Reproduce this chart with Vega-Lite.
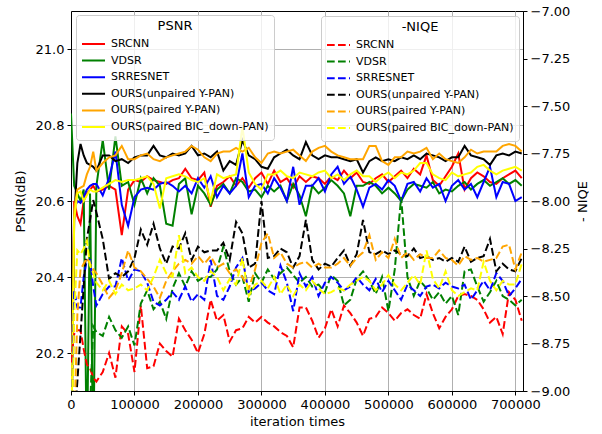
{
  "$schema": "https://vega.github.io/schema/vega-lite/v6.json",
  "width": 452,
  "height": 380,
  "autosize": {"type": "none"},
  "padding": {"left": 71, "top": 11, "right": 79, "bottom": 43},
  "background": "white",
  "config": {
    "font": "DejaVu Sans",
    "view": {"stroke": "black", "strokeWidth": 1},
    "axis": {
      "labelFont": "DejaVu Sans", "labelFontSize": 13, "labelColor": "black",
      "titleFont": "DejaVu Sans", "titleFontSize": 13, "titleFontWeight": "normal", "titleColor": "black",
      "domainColor": "black", "tickColor": "black", "tickSize": 4, "labelPadding": 3,
      "gridColor": "#b0b0b0", "gridWidth": 1, "labelFlush": false, "labelOverlap": false
    },
    "legend": {
      "labelFont": "DejaVu Sans", "labelFontSize": 11, "labelColor": "black", "labelLimit": 0,
      "titleFont": "DejaVu Sans", "titleFontSize": 13, "titleFontWeight": "normal", "titleColor": "black",
      "titleAnchor": "middle", "titlePadding": 3,
      "symbolType": "stroke", "symbolSize": 529, "symbolStrokeWidth": 2, "symbolOpacity": 1,
      "fillColor": "rgba(255,255,255,0.8)", "strokeColor": "#cccccc", "cornerRadius": 3,
      "padding": 5, "clipHeight": 16, "rowPadding": 0.6, "labelOffset": 5
    }
  },
  "datasets": {
    "psnr": [
      {"it": 0, "srcnn": 19.9, "vdsr": 20.83, "srresnet": 19.9, "unpaired": 19.9, "paired": 19.9, "bic": 19.9},
      {"it": 5000, "srcnn": 20.60, "vdsr": 20.64, "srresnet": 20.58, "unpaired": 20.55, "paired": 20.58, "bic": 20.55},
      {"it": 10000, "srcnn": 20.56, "vdsr": 20.62, "srresnet": 20.60, "unpaired": 20.70, "paired": 20.63, "bic": 20.62},
      {"it": 15000, "srcnn": 20.54, "vdsr": 20.60, "srresnet": 20.595, "unpaired": 20.75, "paired": 20.635, "bic": 20.625},
      {"it": 20000, "srcnn": 20.60, "vdsr": 20.63, "srresnet": 20.61, "unpaired": 20.72, "paired": 20.64, "bic": 20.60},
      {"it": 25000, "srcnn": 20.62, "vdsr": 19.9, "srresnet": 20.63, "unpaired": 20.70, "paired": 20.67, "bic": 20.615},
      {"it": 30000, "srcnn": 20.63, "vdsr": 20.62, "srresnet": 20.64, "unpaired": 20.695, "paired": 20.69, "bic": 20.63},
      {"it": 35000, "srcnn": 20.64, "vdsr": 19.9, "srresnet": 20.645, "unpaired": 20.69, "paired": 20.73, "bic": 20.625},
      {"it": 40000, "srcnn": 20.625, "vdsr": 20.64, "srresnet": 20.645, "unpaired": 20.68, "paired": 20.68, "bic": 20.625},
      {"it": 50000, "srcnn": 20.63, "vdsr": 20.76, "srresnet": 20.615, "unpaired": 20.72, "paired": 20.70, "bic": 20.635},
      {"it": 60000, "srcnn": 20.64, "vdsr": 20.63, "srresnet": 20.66, "unpaired": 20.72, "paired": 20.715, "bic": 20.645},
      {"it": 70000, "srcnn": 20.63, "vdsr": 20.77, "srresnet": 20.73, "unpaired": 20.705, "paired": 20.72, "bic": 20.655},
      {"it": 80000, "srcnn": 20.51, "vdsr": 20.64, "srresnet": 20.59, "unpaired": 20.71, "paired": 20.745, "bic": 20.65},
      {"it": 90000, "srcnn": 20.63, "vdsr": 20.65, "srresnet": 20.535, "unpaired": 20.70, "paired": 20.71, "bic": 20.655},
      {"it": 100000, "srcnn": 20.655, "vdsr": 20.59, "srresnet": 20.61, "unpaired": 20.715, "paired": 20.71, "bic": 20.655},
      {"it": 110000, "srcnn": 20.65, "vdsr": 20.66, "srresnet": 20.63, "unpaired": 20.72, "paired": 20.72, "bic": 20.66},
      {"it": 120000, "srcnn": 20.665, "vdsr": 20.62, "srresnet": 20.635, "unpaired": 20.72, "paired": 20.725, "bic": 20.665},
      {"it": 130000, "srcnn": 20.655, "vdsr": 20.66, "srresnet": 20.63, "unpaired": 20.745, "paired": 20.71, "bic": 20.645},
      {"it": 140000, "srcnn": 20.65, "vdsr": 20.64, "srresnet": 20.645, "unpaired": 20.72, "paired": 20.705, "bic": 20.58},
      {"it": 150000, "srcnn": 20.645, "vdsr": 20.54, "srresnet": 20.65, "unpaired": 20.715, "paired": 20.715, "bic": 20.66},
      {"it": 160000, "srcnn": 20.655, "vdsr": 20.535, "srresnet": 20.64, "unpaired": 20.725, "paired": 20.72, "bic": 20.665},
      {"it": 170000, "srcnn": 20.66, "vdsr": 20.645, "srresnet": 20.625, "unpaired": 20.72, "paired": 20.725, "bic": 20.67},
      {"it": 180000, "srcnn": 20.685, "vdsr": 20.66, "srresnet": 20.64, "unpaired": 20.725, "paired": 20.73, "bic": 20.665},
      {"it": 190000, "srcnn": 20.66, "vdsr": 20.565, "srresnet": 20.62, "unpaired": 20.745, "paired": 20.745, "bic": 20.655},
      {"it": 200000, "srcnn": 20.655, "vdsr": 20.64, "srresnet": 20.66, "unpaired": 20.72, "paired": 20.735, "bic": 20.65},
      {"it": 210000, "srcnn": 20.675, "vdsr": 20.62, "srresnet": 20.635, "unpaired": 20.725, "paired": 20.715, "bic": 20.66},
      {"it": 220000, "srcnn": 20.585, "vdsr": 20.59, "srresnet": 20.665, "unpaired": 20.715, "paired": 20.705, "bic": 20.60},
      {"it": 230000, "srcnn": 20.64, "vdsr": 20.63, "srresnet": 20.61, "unpaired": 20.73, "paired": 20.725, "bic": 20.67},
      {"it": 240000, "srcnn": 20.65, "vdsr": 20.645, "srresnet": 20.64, "unpaired": 20.68, "paired": 20.73, "bic": 20.66},
      {"it": 250000, "srcnn": 20.665, "vdsr": 20.62, "srresnet": 20.62, "unpaired": 20.705, "paired": 20.73, "bic": 20.665},
      {"it": 260000, "srcnn": 20.64, "vdsr": 20.66, "srresnet": 20.64, "unpaired": 20.695, "paired": 20.74, "bic": 20.67},
      {"it": 270000, "srcnn": 20.66, "vdsr": 20.65, "srresnet": 20.725, "unpaired": 20.76, "paired": 20.73, "bic": 20.795},
      {"it": 280000, "srcnn": 20.635, "vdsr": 20.625, "srresnet": 20.61, "unpaired": 20.72, "paired": 20.74, "bic": 20.675},
      {"it": 290000, "srcnn": 20.66, "vdsr": 20.63, "srresnet": 20.64, "unpaired": 20.71, "paired": 20.715, "bic": 20.645},
      {"it": 300000, "srcnn": 20.675, "vdsr": 20.61, "srresnet": 20.645, "unpaired": 20.69, "paired": 20.70, "bic": 20.63},
      {"it": 310000, "srcnn": 20.645, "vdsr": 20.64, "srresnet": 20.62, "unpaired": 20.685, "paired": 20.725, "bic": 20.67},
      {"it": 320000, "srcnn": 20.68, "vdsr": 20.625, "srresnet": 20.66, "unpaired": 20.715, "paired": 20.73, "bic": 20.67},
      {"it": 330000, "srcnn": 20.65, "vdsr": 20.64, "srresnet": 20.635, "unpaired": 20.725, "paired": 20.725, "bic": 20.68},
      {"it": 340000, "srcnn": 20.66, "vdsr": 20.60, "srresnet": 20.60, "unpaired": 20.735, "paired": 20.73, "bic": 20.665},
      {"it": 350000, "srcnn": 20.635, "vdsr": 20.645, "srresnet": 20.69, "unpaired": 20.72, "paired": 20.735, "bic": 20.66},
      {"it": 360000, "srcnn": 20.665, "vdsr": 20.615, "srresnet": 20.59, "unpaired": 20.71, "paired": 20.72, "bic": 20.675},
      {"it": 370000, "srcnn": 20.65, "vdsr": 20.56, "srresnet": 20.64, "unpaired": 20.755, "paired": 20.705, "bic": 20.67},
      {"it": 380000, "srcnn": 20.665, "vdsr": 20.64, "srresnet": 20.64, "unpaired": 20.72, "paired": 20.73, "bic": 20.665},
      {"it": 390000, "srcnn": 20.66, "vdsr": 20.62, "srresnet": 20.66, "unpaired": 20.71, "paired": 20.74, "bic": 20.675},
      {"it": 400000, "srcnn": 20.645, "vdsr": 20.635, "srresnet": 20.625, "unpaired": 20.72, "paired": 20.745, "bic": 20.68},
      {"it": 410000, "srcnn": 20.665, "vdsr": 20.655, "srresnet": 20.67, "unpaired": 20.715, "paired": 20.73, "bic": 20.66},
      {"it": 420000, "srcnn": 20.655, "vdsr": 20.64, "srresnet": 20.69, "unpaired": 20.715, "paired": 20.72, "bic": 20.67},
      {"it": 430000, "srcnn": 20.68, "vdsr": 20.62, "srresnet": 20.645, "unpaired": 20.71, "paired": 20.715, "bic": 20.655},
      {"it": 440000, "srcnn": 20.66, "vdsr": 20.56, "srresnet": 20.665, "unpaired": 20.705, "paired": 20.71, "bic": 20.67},
      {"it": 450000, "srcnn": 20.675, "vdsr": 20.64, "srresnet": 20.63, "unpaired": 20.71, "paired": 20.71, "bic": 20.68},
      {"it": 460000, "srcnn": 20.65, "vdsr": 20.64, "srresnet": 20.585, "unpaired": 20.675, "paired": 20.71, "bic": 20.665},
      {"it": 470000, "srcnn": 20.645, "vdsr": 20.65, "srresnet": 20.635, "unpaired": 20.705, "paired": 20.745, "bic": 20.665},
      {"it": 480000, "srcnn": 20.66, "vdsr": 20.64, "srresnet": 20.645, "unpaired": 20.715, "paired": 20.745, "bic": 20.65},
      {"it": 490000, "srcnn": 20.67, "vdsr": 20.62, "srresnet": 20.63, "unpaired": 20.705, "paired": 20.705, "bic": 20.665},
      {"it": 500000, "srcnn": 20.65, "vdsr": 20.635, "srresnet": 20.655, "unpaired": 20.71, "paired": 20.695, "bic": 20.675},
      {"it": 510000, "srcnn": 20.665, "vdsr": 20.62, "srresnet": 20.64, "unpaired": 20.705, "paired": 20.715, "bic": 20.66},
      {"it": 520000, "srcnn": 20.68, "vdsr": 20.60, "srresnet": 20.60, "unpaired": 20.715, "paired": 20.715, "bic": 20.675},
      {"it": 530000, "srcnn": 20.66, "vdsr": 20.63, "srresnet": 20.645, "unpaired": 20.71, "paired": 20.73, "bic": 20.67},
      {"it": 540000, "srcnn": 20.685, "vdsr": 20.645, "srresnet": 20.65, "unpaired": 20.72, "paired": 20.725, "bic": 20.68},
      {"it": 550000, "srcnn": 20.67, "vdsr": 20.64, "srresnet": 20.625, "unpaired": 20.71, "paired": 20.73, "bic": 20.70},
      {"it": 560000, "srcnn": 20.72, "vdsr": 20.635, "srresnet": 20.66, "unpaired": 20.725, "paired": 20.74, "bic": 20.70},
      {"it": 570000, "srcnn": 20.655, "vdsr": 20.65, "srresnet": 20.635, "unpaired": 20.72, "paired": 20.71, "bic": 20.67},
      {"it": 580000, "srcnn": 20.64, "vdsr": 20.62, "srresnet": 20.645, "unpaired": 20.715, "paired": 20.725, "bic": 20.66},
      {"it": 590000, "srcnn": 20.665, "vdsr": 20.63, "srresnet": 20.60, "unpaired": 20.705, "paired": 20.71, "bic": 20.655},
      {"it": 600000, "srcnn": 20.69, "vdsr": 20.625, "srresnet": 20.64, "unpaired": 20.715, "paired": 20.705, "bic": 20.675},
      {"it": 610000, "srcnn": 20.725, "vdsr": 20.64, "srresnet": 20.655, "unpaired": 20.715, "paired": 20.70, "bic": 20.665},
      {"it": 620000, "srcnn": 20.63, "vdsr": 20.65, "srresnet": 20.63, "unpaired": 20.745, "paired": 20.715, "bic": 20.67},
      {"it": 630000, "srcnn": 20.66, "vdsr": 20.63, "srresnet": 20.645, "unpaired": 20.72, "paired": 20.735, "bic": 20.675},
      {"it": 640000, "srcnn": 20.675, "vdsr": 20.645, "srresnet": 20.61, "unpaired": 20.715, "paired": 20.725, "bic": 20.69},
      {"it": 650000, "srcnn": 20.665, "vdsr": 20.655, "srresnet": 20.65, "unpaired": 20.71, "paired": 20.73, "bic": 20.695},
      {"it": 660000, "srcnn": 20.65, "vdsr": 20.64, "srresnet": 20.69, "unpaired": 20.695, "paired": 20.73, "bic": 20.68},
      {"it": 670000, "srcnn": 20.645, "vdsr": 20.65, "srresnet": 20.61, "unpaired": 20.72, "paired": 20.73, "bic": 20.67},
      {"it": 680000, "srcnn": 20.66, "vdsr": 20.66, "srresnet": 20.65, "unpaired": 20.725, "paired": 20.745, "bic": 20.68},
      {"it": 690000, "srcnn": 20.67, "vdsr": 20.645, "srresnet": 20.645, "unpaired": 20.72, "paired": 20.75, "bic": 20.685},
      {"it": 700000, "srcnn": 20.68, "vdsr": 20.655, "srresnet": 20.60, "unpaired": 20.73, "paired": 20.745, "bic": 20.69},
      {"it": 710000, "srcnn": 20.66, "vdsr": 20.64, "srresnet": 20.61, "unpaired": 20.725, "paired": 20.73, "bic": 20.68}
    ],
    "niqe": [
      {"it": 0, "srcnn": -8.85, "vdsr": -9.5, "srresnet": -9.5, "unpaired": -9.5, "paired": -9.5, "bic": -9.5},
      {"it": 5000, "srcnn": -8.70, "vdsr": -9.4, "srresnet": -8.47, "unpaired": -9.2, "paired": -9.2, "bic": -8.6},
      {"it": 10000, "srcnn": -8.68, "vdsr": -9.3, "srresnet": -8.56, "unpaired": -8.95, "paired": -8.6, "bic": -8.26},
      {"it": 15000, "srcnn": -8.68, "vdsr": -9.2, "srresnet": -8.56, "unpaired": -8.70, "paired": -8.36, "bic": -8.28},
      {"it": 20000, "srcnn": -8.78, "vdsr": -9.1, "srresnet": -8.40, "unpaired": -8.45, "paired": -8.33, "bic": -8.25},
      {"it": 25000, "srcnn": -8.86, "vdsr": -9.2, "srresnet": -8.31, "unpaired": -8.20, "paired": -8.30, "bic": -8.21},
      {"it": 30000, "srcnn": -8.88, "vdsr": -9.1, "srresnet": -8.31, "unpaired": -8.10, "paired": -8.33, "bic": -8.34},
      {"it": 35000, "srcnn": -8.93, "vdsr": -8.66, "srresnet": -8.45, "unpaired": -7.995, "paired": -8.36, "bic": -8.38},
      {"it": 40000, "srcnn": -8.95, "vdsr": -8.69, "srresnet": -8.55, "unpaired": -8.06, "paired": -8.38, "bic": -8.43},
      {"it": 50000, "srcnn": -8.90, "vdsr": -8.71, "srresnet": -8.49, "unpaired": -8.20, "paired": -8.44, "bic": -8.47},
      {"it": 60000, "srcnn": -8.80, "vdsr": -8.61, "srresnet": -8.45, "unpaired": -8.41, "paired": -8.51, "bic": -8.42},
      {"it": 70000, "srcnn": -8.93, "vdsr": -8.68, "srresnet": -8.45, "unpaired": -8.38, "paired": -8.47, "bic": -8.49},
      {"it": 80000, "srcnn": -8.66, "vdsr": -8.72, "srresnet": -8.30, "unpaired": -8.40, "paired": -8.38, "bic": -8.44},
      {"it": 90000, "srcnn": -8.70, "vdsr": -8.66, "srresnet": -8.42, "unpaired": -8.37, "paired": -8.26, "bic": -8.47},
      {"it": 100000, "srcnn": -8.90, "vdsr": -8.76, "srresnet": -8.36, "unpaired": -8.30, "paired": -8.35, "bic": -8.46},
      {"it": 110000, "srcnn": -8.55, "vdsr": -8.54, "srresnet": -8.37, "unpaired": -8.15, "paired": -8.37, "bic": -8.44},
      {"it": 120000, "srcnn": -8.88, "vdsr": -8.47, "srresnet": -8.43, "unpaired": -8.23, "paired": -8.41, "bic": -8.47},
      {"it": 130000, "srcnn": -8.87, "vdsr": -8.57, "srresnet": -8.53, "unpaired": -8.12, "paired": -8.45, "bic": -8.40},
      {"it": 140000, "srcnn": -8.75, "vdsr": -8.53, "srresnet": -8.55, "unpaired": -8.25, "paired": -8.51, "bic": -8.31},
      {"it": 150000, "srcnn": -8.79, "vdsr": -8.62, "srresnet": -8.52, "unpaired": -8.33, "paired": -8.42, "bic": -8.38},
      {"it": 160000, "srcnn": -8.82, "vdsr": -8.46, "srresnet": -8.48, "unpaired": -8.24, "paired": -8.37, "bic": -8.40},
      {"it": 170000, "srcnn": -8.62, "vdsr": -8.38, "srresnet": -8.52, "unpaired": -8.25, "paired": -8.33, "bic": -8.18},
      {"it": 180000, "srcnn": -8.68, "vdsr": -8.45, "srresnet": -8.45, "unpaired": -8.17, "paired": -8.31, "bic": -8.38},
      {"it": 190000, "srcnn": -8.73, "vdsr": -8.37, "srresnet": -8.53, "unpaired": -8.31, "paired": -8.33, "bic": -8.35},
      {"it": 200000, "srcnn": -8.80, "vdsr": -8.42, "srresnet": -8.49, "unpaired": -8.24, "paired": -8.29, "bic": -8.40},
      {"it": 210000, "srcnn": -8.70, "vdsr": -8.40, "srresnet": -8.52, "unpaired": -8.27, "paired": -8.33, "bic": -8.42},
      {"it": 220000, "srcnn": -8.52, "vdsr": -8.40, "srresnet": -8.31, "unpaired": -8.26, "paired": -8.29, "bic": -8.37},
      {"it": 230000, "srcnn": -8.63, "vdsr": -8.36, "srresnet": -8.50, "unpaired": -8.26, "paired": -8.35, "bic": -8.40},
      {"it": 240000, "srcnn": -8.60, "vdsr": -8.24, "srresnet": -8.52, "unpaired": -8.22, "paired": -8.33, "bic": -8.47},
      {"it": 250000, "srcnn": -8.74, "vdsr": -8.37, "srresnet": -8.45, "unpaired": -8.31, "paired": -8.38, "bic": -8.41},
      {"it": 260000, "srcnn": -8.68, "vdsr": -8.44, "srresnet": -8.35, "unpaired": -8.11, "paired": -8.36, "bic": -8.44},
      {"it": 270000, "srcnn": -8.67, "vdsr": -8.40, "srresnet": -8.30, "unpaired": -8.17, "paired": -8.40, "bic": -8.30},
      {"it": 280000, "srcnn": -8.61, "vdsr": -8.53, "srresnet": -8.48, "unpaired": -8.35, "paired": -8.46, "bic": -8.50},
      {"it": 290000, "srcnn": -8.64, "vdsr": -8.38, "srresnet": -8.46, "unpaired": -8.33, "paired": -8.36, "bic": -8.44},
      {"it": 300000, "srcnn": -8.61, "vdsr": -8.43, "srresnet": -8.43, "unpaired": -8.00, "paired": -8.22, "bic": -8.42},
      {"it": 310000, "srcnn": -8.64, "vdsr": -8.36, "srresnet": -8.47, "unpaired": -8.30, "paired": -8.17, "bic": -8.46},
      {"it": 320000, "srcnn": -8.66, "vdsr": -8.41, "srresnet": -8.49, "unpaired": -8.29, "paired": -8.30, "bic": -8.40},
      {"it": 330000, "srcnn": -8.69, "vdsr": -8.38, "srresnet": -8.34, "unpaired": -8.25, "paired": -8.27, "bic": -8.49},
      {"it": 340000, "srcnn": -8.71, "vdsr": -8.35, "srresnet": -8.43, "unpaired": -8.27, "paired": -8.33, "bic": -8.44},
      {"it": 350000, "srcnn": -8.77, "vdsr": -8.39, "srresnet": -8.58, "unpaired": -8.35, "paired": -8.35, "bic": -8.50},
      {"it": 360000, "srcnn": -8.56, "vdsr": -8.43, "srresnet": -8.38, "unpaired": -8.29, "paired": -8.33, "bic": -8.44},
      {"it": 370000, "srcnn": -8.56, "vdsr": -8.40, "srresnet": -8.45, "unpaired": -8.10, "paired": -8.32, "bic": -8.47},
      {"it": 380000, "srcnn": -8.63, "vdsr": -8.45, "srresnet": -8.40, "unpaired": -8.31, "paired": -8.35, "bic": -8.42},
      {"it": 390000, "srcnn": -8.72, "vdsr": -8.44, "srresnet": -8.50, "unpaired": -8.36, "paired": -8.33, "bic": -8.46},
      {"it": 400000, "srcnn": -8.67, "vdsr": -8.48, "srresnet": -8.43, "unpaired": -8.33, "paired": -8.35, "bic": -8.49},
      {"it": 410000, "srcnn": -8.57, "vdsr": -8.39, "srresnet": -8.40, "unpaired": -8.345, "paired": -8.35, "bic": -8.48},
      {"it": 420000, "srcnn": -8.66, "vdsr": -8.42, "srresnet": -8.43, "unpaired": -8.30, "paired": -8.33, "bic": -8.46},
      {"it": 430000, "srcnn": -8.55, "vdsr": -8.55, "srresnet": -8.47, "unpaired": -8.26, "paired": -8.30, "bic": -8.47},
      {"it": 440000, "srcnn": -8.59, "vdsr": -8.52, "srresnet": -8.45, "unpaired": -8.34, "paired": -8.34, "bic": -8.44},
      {"it": 450000, "srcnn": -8.64, "vdsr": -8.41, "srresnet": -8.40, "unpaired": -8.28, "paired": -8.30, "bic": -8.42},
      {"it": 460000, "srcnn": -8.71, "vdsr": -8.37, "srresnet": -8.44, "unpaired": -8.10, "paired": -8.27, "bic": -8.40},
      {"it": 470000, "srcnn": -8.62, "vdsr": -8.42, "srresnet": -8.47, "unpaired": -8.27, "paired": -8.18, "bic": -8.42},
      {"it": 480000, "srcnn": -8.61, "vdsr": -8.49, "srresnet": -8.41, "unpaired": -8.28, "paired": -8.31, "bic": -8.47},
      {"it": 490000, "srcnn": -8.56, "vdsr": -8.40, "srresnet": -8.48, "unpaired": -8.26, "paired": -8.27, "bic": -8.44},
      {"it": 500000, "srcnn": -8.59, "vdsr": -8.58, "srresnet": -8.42, "unpaired": -8.28, "paired": -8.30, "bic": -8.39},
      {"it": 510000, "srcnn": -8.63, "vdsr": -8.36, "srresnet": -8.47, "unpaired": -8.26, "paired": -8.20, "bic": -8.44},
      {"it": 520000, "srcnn": -8.59, "vdsr": -7.98, "srresnet": -8.52, "unpaired": -8.28, "paired": -8.30, "bic": -8.47},
      {"it": 530000, "srcnn": -8.57, "vdsr": -8.40, "srresnet": -8.44, "unpaired": -8.29, "paired": -8.27, "bic": -8.43},
      {"it": 540000, "srcnn": -8.60, "vdsr": -8.50, "srresnet": -8.47, "unpaired": -8.25, "paired": -8.31, "bic": -8.39},
      {"it": 550000, "srcnn": -8.62, "vdsr": -8.42, "srresnet": -8.50, "unpaired": -8.30, "paired": -8.28, "bic": -8.44},
      {"it": 560000, "srcnn": -8.49, "vdsr": -8.46, "srresnet": -8.45, "unpaired": -8.29, "paired": -8.30, "bic": -8.26},
      {"it": 570000, "srcnn": -8.59, "vdsr": -8.52, "srresnet": -8.44, "unpaired": -8.31, "paired": -8.30, "bic": -8.41},
      {"it": 580000, "srcnn": -8.67, "vdsr": -8.48, "srresnet": -8.46, "unpaired": -8.30, "paired": -8.26, "bic": -8.46},
      {"it": 590000, "srcnn": -8.61, "vdsr": -8.54, "srresnet": -8.43, "unpaired": -8.32, "paired": -8.30, "bic": -8.37},
      {"it": 600000, "srcnn": -8.57, "vdsr": -8.50, "srresnet": -8.45, "unpaired": -8.30, "paired": -8.31, "bic": -8.47},
      {"it": 610000, "srcnn": -8.50, "vdsr": -8.60, "srresnet": -8.46, "unpaired": -8.32, "paired": -8.34, "bic": -8.50},
      {"it": 620000, "srcnn": -8.49, "vdsr": -8.37, "srresnet": -8.44, "unpaired": -8.24, "paired": -8.29, "bic": -8.48},
      {"it": 630000, "srcnn": -8.50, "vdsr": -8.36, "srresnet": -8.52, "unpaired": -8.32, "paired": -8.31, "bic": -8.46},
      {"it": 640000, "srcnn": -8.52, "vdsr": -8.45, "srresnet": -8.47, "unpaired": -8.30, "paired": -8.30, "bic": -8.47},
      {"it": 650000, "srcnn": -8.57, "vdsr": -8.53, "srresnet": -8.42, "unpaired": -8.29, "paired": -8.32, "bic": -8.32},
      {"it": 660000, "srcnn": -8.64, "vdsr": -8.48, "srresnet": -8.47, "unpaired": -8.20, "paired": -8.31, "bic": -8.42},
      {"it": 670000, "srcnn": -8.61, "vdsr": -8.42, "srresnet": -8.38, "unpaired": -8.37, "paired": -8.30, "bic": -8.47},
      {"it": 680000, "srcnn": -8.70, "vdsr": -8.50, "srresnet": -8.42, "unpaired": -8.33, "paired": -8.24, "bic": -8.42},
      {"it": 690000, "srcnn": -8.48, "vdsr": -8.52, "srresnet": -8.50, "unpaired": -8.36, "paired": -8.23, "bic": -8.44},
      {"it": 700000, "srcnn": -8.52, "vdsr": -8.55, "srresnet": -8.46, "unpaired": -8.37, "paired": -8.36, "bic": -8.44},
      {"it": 710000, "srcnn": -8.63, "vdsr": -8.52, "srresnet": -8.41, "unpaired": -8.30, "paired": -8.27, "bic": -8.33}
    ]
  },
  "encoding": {
    "x": {
      "field": "it", "type": "quantitative",
      "scale": {"domain": [0, 712000], "nice": false, "zero": false},
      "axis": {
        "title": "iteration times", "titlePadding": 4,
        "values": [0, 100000, 200000, 300000, 400000, 500000, 600000, 700000],
        "format": "d", "grid": true
      }
    }
  },
  "layer": [
    {
      "data": {"name": "psnr"},
      "transform": [{"fold": ["srcnn", "vdsr", "srresnet", "unpaired", "paired", "bic"], "as": ["method", "value"]}],
      "mark": {"type": "line", "clip": true, "strokeWidth": 2},
      "encoding": {
        "y": {
          "field": "value", "type": "quantitative",
          "scale": {"domain": [20.1, 21.1], "nice": false, "zero": false},
          "axis": {"orient": "left", "title": "PSNR(dB)", "titlePadding": 8, "values": [20.2, 20.4, 20.6, 20.8, 21.0], "format": ".1f", "grid": true}
        },
        "color": {
          "field": "method", "type": "nominal",
          "scale": {"domain": ["srcnn", "vdsr", "srresnet", "unpaired", "paired", "bic"], "range": ["#ff0000", "#008000", "#0000ff", "#000000", "#ffa500", "#ffff00"]},
          "legend": {
            "title": "PSNR", "titleFontWeight": "normal", "orient": "none", "legendX": 5, "legendY": 4,
            "labelExpr": "{'srcnn': 'SRCNN', 'vdsr': 'VDSR', 'srresnet': 'SRRESNET', 'unpaired': 'OURS(unpaired Y-PAN)', 'paired': 'OURS(paired Y-PAN)', 'bic': 'OURS(paired BIC_down-PAN)'}[datum.label]"
          }
        }
      }
    },
    {
      "data": {"name": "niqe"},
      "transform": [{"fold": ["srcnn", "vdsr", "srresnet", "unpaired", "paired", "bic"], "as": ["method", "value"]}],
      "mark": {"type": "line", "clip": true, "strokeWidth": 2, "strokeDash": [7.7, 3.3]},
      "encoding": {
        "y": {
          "field": "value", "type": "quantitative",
          "scale": {"domain": [-9, -7], "nice": false, "zero": false},
          "axis": {"orient": "right", "title": "- NIQE", "titleAngle": 270, "titleBaseline": "top", "titlePadding": 7, "values": [-9, -8.75, -8.5, -8.25, -8, -7.75, -7.5, -7.25, -7], "format": ".2f", "grid": false}
        },
        "color": {
          "field": "method", "type": "nominal",
          "scale": {"domain": ["srcnn", "vdsr", "srresnet", "unpaired", "paired", "bic"], "range": ["#ff0000", "#008000", "#0000ff", "#000000", "#ffa500", "#ffff00"]},
          "legend": {
            "title": "-NIQE", "titleFontWeight": "normal", "orient": "none", "legendX": 250, "legendY": 5, "symbolDash": [7.7, 3.3],
            "labelExpr": "{'srcnn': 'SRCNN', 'vdsr': 'VDSR', 'srresnet': 'SRRESNET', 'unpaired': 'OURS(unpaired Y-PAN)', 'paired': 'OURS(paired Y-PAN)', 'bic': 'OURS(paired BIC_down-PAN)'}[datum.label]"
          }
        }
      }
    }
  ],
  "resolve": {"scale": {"y": "independent", "color": "independent"}}
}
